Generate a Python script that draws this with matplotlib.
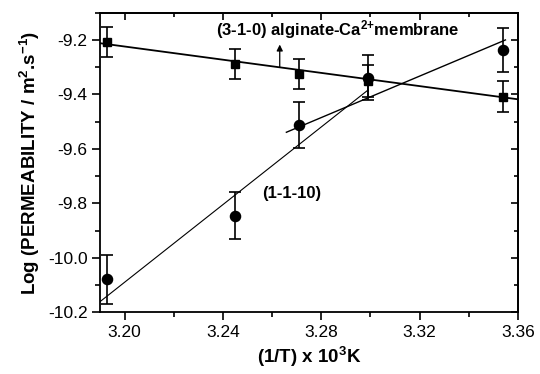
import matplotlib
matplotlib.use("Agg")
import matplotlib.pyplot as plt
import numpy as np

# Data (x = 1/T x 10^3 K)
x_sq = [3.193, 3.245, 3.271, 3.299, 3.354]
y_sq = [-9.208, -9.289, -9.324, -9.351, -9.408]
e_sq = [0.054, 0.055, 0.055, 0.060, 0.058]

x_ci = [3.193, 3.245, 3.271, 3.299, 3.354]
y_ci = [-10.079, -9.846, -9.513, -9.338, -9.237]
e_ci = [0.090, 0.086, 0.084, 0.081, 0.081]

# fitted lines (endpoints)
fit_sq_x = [3.19, 3.36]
fit_sq_y = [-9.212, -9.418]
fit_steep_x = [3.19, 3.299]
fit_steep_y = [-10.161, -9.384]
fit_shallow_x = [3.2658, 3.3549]
fit_shallow_y = [-9.539, -9.200]

xticks = [3.20, 3.24, 3.28, 3.32, 3.36]
yticks = [-10.2, -10.0, -9.8, -9.6, -9.4, -9.2]

plt.rcParams['font.family'] = ['Liberation Sans', 'DejaVu Sans']
plt.rcParams['mathtext.fontset'] = 'custom'
plt.rcParams['mathtext.rm'] = 'Liberation Sans:bold'
plt.rcParams['mathtext.bf'] = 'Liberation Sans:bold'
plt.rcParams['mathtext.it'] = 'Liberation Sans:bold'
plt.rcParams['mathtext.default'] = 'bf'

fig = plt.figure(figsize=(5.4, 3.74), dpi=100)
ax = fig.add_axes([100/540, 1-312.3/374, 418/540, 299.6/374])

ax.plot(fit_sq_x, fit_sq_y, color='black', lw=1.3)
ax.plot(fit_steep_x, fit_steep_y, color='black', lw=0.8)
ax.plot(fit_shallow_x, fit_shallow_y, color='black', lw=1.0)

ax.errorbar(x_sq, y_sq, yerr=e_sq, fmt='s', color='black', ms=6.3,
            capsize=4.5, elinewidth=1.2, capthick=1.2)
ax.errorbar(x_ci, y_ci, yerr=e_ci, fmt='o', color='black', ms=7.3,
            capsize=4.5, elinewidth=1.2, capthick=1.2)

ax.annotate('', xy=(3.2631, -9.217), xytext=(3.2631, -9.300),
            arrowprops=dict(arrowstyle='-|>', color='black', lw=0.9,
                            mutation_scale=9, shrinkA=0, shrinkB=0))
ax.text(3.2370, -9.163, r"(3-1-0) alginate-Ca$^{2{+}}$membrane", fontsize=12,
        fontweight='bold', ha='left', va='center')
ax.text(3.2560, -9.763, "(1-1-10)", fontsize=12, fontweight='bold',
        ha='left', va='center')

minor_x = np.arange(3.20, 3.361, 0.02)
minor_y = np.arange(-10.2, -9.09, 0.1)
ax.set_xticks(xticks)
ax.set_xticklabels([f"{v:.2f}" for v in xticks])
ax.set_yticks(yticks)
ax.set_yticklabels([f"{v:.1f}" for v in yticks])
ax.set_xticks(minor_x, minor=True)
ax.set_yticks(minor_y, minor=True)

ax.tick_params(which='both', direction='out', top=False, right=False,
               width=1.2, labelsize=12.5)
ax.tick_params(which='major', length=6, pad=3)
ax.tick_params(which='minor', length=3.5)
sec = ax.secondary_xaxis('top')
sec.set_xticks(xticks)
sec.set_xticks(minor_x, minor=True)
sec.tick_params(which='both', direction='in', labeltop=False, width=1.2)
sec.tick_params(which='major', length=5)
sec.tick_params(which='minor', length=3)
sec.spines['top'].set_linewidth(1.3)
secy = ax.secondary_yaxis('right')
secy.set_yticks(yticks)
secy.set_yticks(minor_y, minor=True)
secy.tick_params(which='both', direction='in', labelright=False, width=1.2)
secy.tick_params(which='major', length=5)
secy.tick_params(which='minor', length=3)
secy.spines['right'].set_linewidth(1.3)
ax.set_xlim(3.19, 3.36)
ax.set_ylim(-10.2, -9.1)

for s in ax.spines.values():
    s.set_linewidth(1.3)

ax.set_xlabel(r"(1/T) x 10$^{3}$K", fontsize=13.5, fontweight='bold', labelpad=4)
ax.set_ylabel(r"Log (PERMEABILITY / m$^{2}$.s$^{-1}$)", fontsize=13.5,
              fontweight='bold', labelpad=4)

fig.savefig("out.png", dpi=100)
